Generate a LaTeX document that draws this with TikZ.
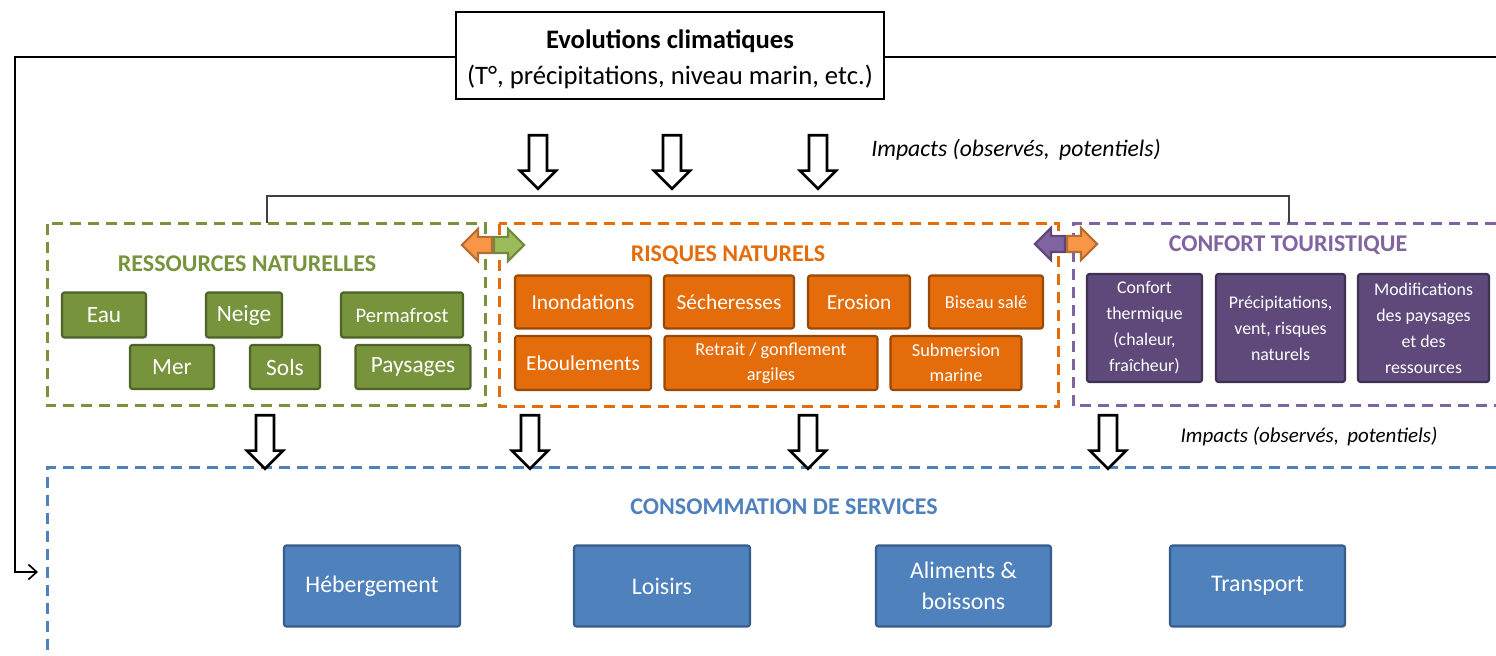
\documentclass[tikz,border=0pt]{standalone}
\usepackage{fontspec}
\setmainfont{Carlito}
\usetikzlibrary{shapes.arrows,arrows.meta}
\definecolor{vertR}{HTML}{77933C}
\definecolor{vertF}{HTML}{4F6228}
\definecolor{vertC}{HTML}{9BBB59}
\definecolor{vertCF}{HTML}{71893F}
\definecolor{orangeR}{HTML}{E46C0A}
\definecolor{orangeF}{HTML}{984807}
\definecolor{orangeC}{HTML}{F79646}
\definecolor{orangeCF}{HTML}{B66D31}
\definecolor{violetR}{HTML}{5F497A}
\definecolor{violetF}{HTML}{3F3151}
\definecolor{violetC}{HTML}{8064A2}
\definecolor{violetCF}{HTML}{5C4776}
\definecolor{bleuR}{HTML}{4F81BD}
\definecolor{bleuF}{HTML}{385D8A}
\tikzstyle{cadre}=[draw,line width=0.8pt,align=center,inner sep=0pt,font=\fontsize{16}{21.6}\selectfont]
\tikzstyle{boite}=[line width=1.3pt,rounded corners=1.5pt,text=white,inner sep=0pt,align=center]
\tikzstyle{ressource}=[boite,draw=vertF,fill=vertR,font=\fontsize{14}{16}\selectfont]
\tikzstyle{risque}=[boite,draw=orangeF,fill=orangeR,font=\fontsize{12.8}{15}\selectfont]
\tikzstyle{confort}=[boite,draw=violetF,fill=violetR,font=\fontsize{10.7}{15.6}\selectfont]
\tikzstyle{service}=[boite,draw=bleuF,fill=bleuR,font=\fontsize{14.3}{18.6}\selectfont]
\tikzstyle{zone}=[line width=1.8pt,dash pattern=on 6.6pt off 4.2pt]
\tikzstyle{titre}=[font=\fontsize{14.4}{17}\selectfont\bfseries]
\tikzstyle{impact}=[font=\fontsize{14.2}{17}\selectfont\itshape]
\tikzstyle{fleche}=[draw,line width=1.6pt,fill=white,single arrow,single arrow head extend=5.4pt,minimum height=32pt,inner xsep=0pt,inner ysep=4.6pt,rotate=-90,anchor=tail]
\tikzstyle{demi}=[single arrow,line width=1.3pt,single arrow head extend=4.8pt,minimum height=18pt,inner xsep=0pt,inner ysep=4.2pt,anchor=tail]

\begin{document}
\begin{tikzpicture}[x=0.6pt,y=-0.6pt,wh/.style 2 args={minimum width=#1*0.6pt,minimum height=#2*0.6pt}]
  \useasboundingbox (0,0) rectangle (1496,656);

  % zones
  \draw[zone,vertR] (47,224) rectangle (485,406);
  \draw[zone,orangeR] (499,224) rectangle (1058,407);
  \draw[zone,violetC] (1496,224) -- (1073,224) -- (1073,406) -- (1496,406);
  \draw[zone,bleuR] (1496,468) -- (47,468) -- (47,660);

  % evolutions climatiques
  \node[cadre,wh={428}{87}] (climat) at (670,55.5)
    {\rule{0pt}{15.6pt}{\bfseries Evolutions climatiques}\\(T°, précipitations, niveau marin, etc.)};
  \coordinate (coin) at (15,57);
  \coordinate (entree) at (38,572);
  \coordinate (bord) at (1496,57);
  \draw[line width=1pt,-{Straight Barb[length=5pt,width=9pt]}] (climat.west |- coin) -- (coin) |- (entree);
  \draw[line width=1pt] (climat.east |- bord) -- (bord);

  \node[fleche] (f1) at (538,134) {};
  \node[fleche] (f2) at (672,134) {};
  \node[fleche] (f3) at (818,134) {};
  \node[impact] (imp1) at (1016,150) {Impacts (observés,\, potentiels)};

  \coordinate (acc1) at (267,223);
  \coordinate (acc2) at (1289,223);
  \draw[line width=0.7pt,black!75] (acc1) -- ++(0,-27) -| (acc2);

  % ressources naturelles
  \node[titre,vertR] (tres) at (247,264) {RESSOURCES NATURELLES};
  \node[ressource,wh={84}{45}] (eau) at (104,315) {Eau};
  \node[ressource,wh={76}{45}] (neige) at (244,315) {Neige};
  \node[ressource,wh={122}{45},font=\fontsize{12.4}{15}\selectfont] (perma) at (402,315) {Permafrost};
  \node[ressource,wh={84}{44}] (mer) at (172,367) {Mer};
  \node[ressource,wh={70}{44}] (sols) at (285,367) {Sols};
  \node[ressource,wh={115}{44}] (pays) at (413,367) {Paysages};

  % risques naturels
  \node[titre,orangeR] (tris) at (728,255) {RISQUES NATURELS};
  \node[risque,wh={136}{53}] (inon) at (583,302) {Inondations};
  \node[risque,wh={130}{53}] (sech) at (729,302) {Sécheresses};
  \node[risque,wh={102}{53}] (eros) at (859,302) {Erosion};
  \node[risque,wh={114}{53},font=\fontsize{11}{15}\selectfont] (bis) at (986,302) {Biseau salé};
  \node[risque,wh={136}{54}] (ebou) at (583,363) {Eboulements};
  \node[risque,wh={213}{54},font=\fontsize{11}{15}\selectfont] (retr) at (771,363) {Retrait / gonflement\\argiles};
  \node[risque,wh={131}{54},font=\fontsize{11}{15}\selectfont] (subm) at (956,363) {Submersion\\marine};

  % confort touristique
  \node[titre,violetC] (tconf) at (1288,245) {CONFORT TOURISTIQUE};
  \node[confort,wh={115}{108}] (therm) at (1144.5,328) {Confort\\thermique\\(chaleur,\\fraîcheur)};
  \node[confort,wh={129}{108}] (prec) at (1280.5,328) {Précipitations,\\vent, risques\\naturels};
  \node[confort,wh={131}{108}] (modif) at (1423.5,328) {Modifications\\des paysages\\et des\\ressources};

  % doubles fleches
  \node[demi,draw=orangeCF,fill=orangeC,rotate=180] (d1) at (493,245) {};
  \node[demi,draw=vertCF,fill=vertC] (d2) at (493,245) {};
  \node[demi,draw=violetCF,fill=violetC,rotate=180] (d3) at (1066,244) {};
  \node[demi,draw=orangeCF,fill=orangeC] (d4) at (1066,244) {};

  \node[fleche] (f4) at (265,414) {};
  \node[fleche] (f5) at (530,414) {};
  \node[fleche] (f6) at (808,414) {};
  \node[fleche] (f7) at (1108,414) {};
  \node[impact,font=\fontsize{12.6}{15}\selectfont\itshape] (imp2) at (1309,437) {Impacts (observés,\, potentiels)};

  % consommation de services
  \node[titre,bleuR] (tserv) at (784,507) {CONSOMMATION DE SERVICES};
  \node[service,wh={176}{81}] (heb) at (372,586) {Hébergement};
  \node[service,wh={176}{81}] (lois) at (662,586) {Loisirs};
  \node[service,wh={175}{81}] (alim) at (963.5,586) {Aliments \&\\boissons};
  \node[service,wh={175}{81}] (trans) at (1257.5,586) {Transport};
\end{tikzpicture}
\end{document}
